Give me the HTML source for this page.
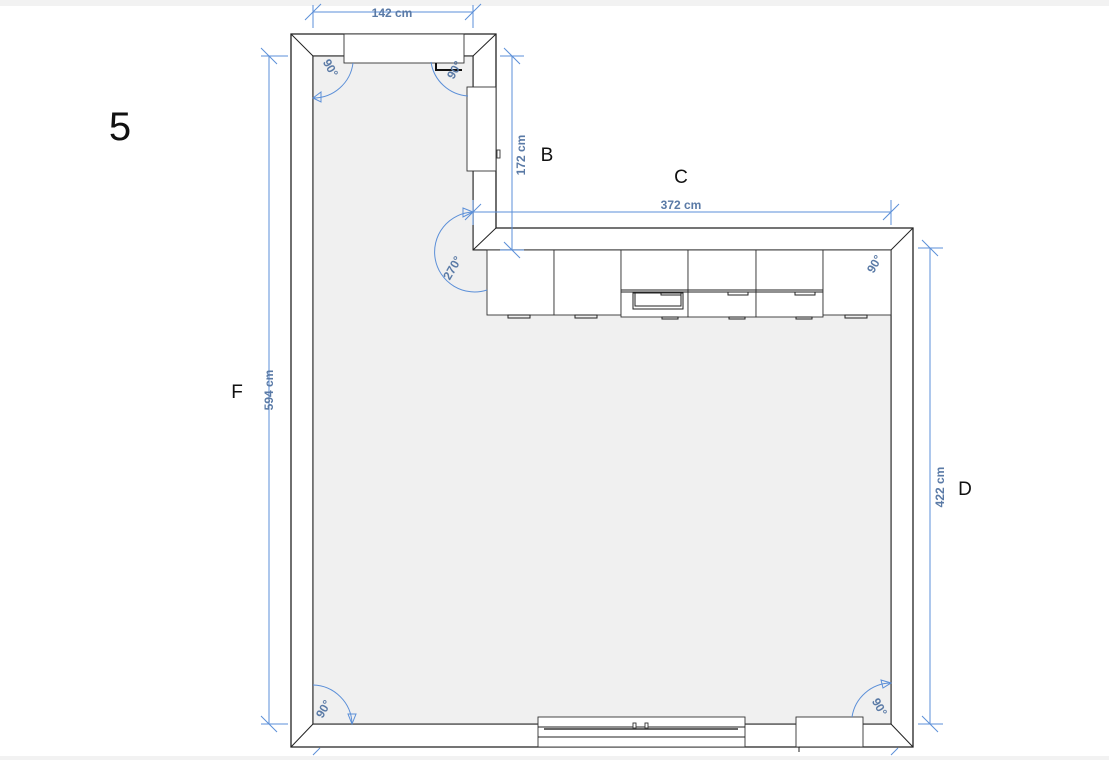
<!DOCTYPE html>
<html><head><meta charset="utf-8"><style>
body{margin:0;background:#fff;width:1109px;height:760px;overflow:hidden}
svg{display:block}
text{font-family:"Liberation Sans",sans-serif}
.d{stroke:#5b8fd8;stroke-width:1;fill:none}
.dt{fill:#5a7aa6;font-size:12px;font-weight:bold}
.a{stroke:#5b8fd8;stroke-width:1;fill:none}
.at{fill:#5a7aa6;font-size:12px;font-weight:bold}
.w{stroke:#222;stroke-width:1.3;fill:#fff}
.l{stroke:#222;stroke-width:1;fill:none}
.c{stroke:#333;stroke-width:0.9;fill:#fff}
</style></head><body>
<svg width="1109" height="760" viewBox="0 0 1109 760">
<rect x="0" y="0" width="1109" height="6" fill="#f2f2f2"/>
<rect x="0" y="756" width="1109" height="4" fill="#f2f2f2"/>
<!-- walls -->
<path class="w" fill-rule="evenodd" d="M291,34 L496,34 L496,228 L913,228 L913,747 L291,747 Z M313,56 L473,56 L473,250 L891,250 L891,724 L313,724 Z"/>
<path d="M313,56 L473,56 L473,250 L891,250 L891,724 L313,724 Z" fill="#f0f0f0" stroke="#222" stroke-width="1"/>
<g class="l">
<line x1="291" y1="34" x2="313" y2="56"/><line x1="496" y1="34" x2="473" y2="56"/>
<line x1="496" y1="228" x2="473" y2="250"/><line x1="913" y1="228" x2="891" y2="250"/>
<line x1="913" y1="747" x2="891" y2="724"/><line x1="291" y1="747" x2="313" y2="724"/>
</g>
<!-- top window -->
<rect class="c" x="344" y="34" width="120" height="29"/>
<path d="M436,63 V70 H462" stroke="#111" stroke-width="2" fill="none"/>
<!-- B door/cabinet -->
<rect class="c" x="467" y="87" width="29" height="84"/>
<rect class="c" x="497" y="150" width="3" height="8"/>
<!-- cabinets -->
<g class="c">
<rect x="487" y="250" width="67" height="65"/>
<rect x="554" y="250" width="67" height="65"/>
<rect x="621" y="250" width="67" height="67"/>
<rect x="688" y="250" width="68" height="67"/>
<rect x="756" y="250" width="67" height="67"/>
<rect x="823" y="250" width="68" height="65"/>
</g>
<g class="l">
<line x1="621" y1="290" x2="823" y2="290"/><line x1="621" y1="292" x2="823" y2="292"/>
<rect x="633" y="293" width="50" height="16"/><rect x="635" y="293" width="46" height="13"/>
<rect x="661" y="292" width="20" height="3"/><rect x="728" y="292" width="20" height="3"/><rect x="795" y="292" width="20" height="3"/>
<rect x="508" y="315" width="22" height="3"/><rect x="575" y="315" width="22" height="3"/><rect x="845" y="315" width="22" height="3"/>
<rect x="662" y="317" width="16" height="2"/><rect x="729" y="317" width="16" height="2"/><rect x="796" y="317" width="16" height="2"/>
</g>
<!-- bottom window -->
<rect class="c" x="538" y="717" width="207" height="30"/>
<line class="l" x1="538" y1="727" x2="745" y2="727"/>
<line class="l" x1="538" y1="737" x2="745" y2="737"/>
<line x1="544" y1="729" x2="738" y2="729" stroke="#333" stroke-width="1.5"/>
<rect class="c" x="633" y="723" width="3" height="5"/><rect class="c" x="645" y="723" width="3" height="5"/>
<rect class="c" x="796" y="717" width="67" height="30"/>
<line class="l" x1="799" y1="747" x2="799" y2="752"/>
<line class="l" x1="799" y1="747" x2="860" y2="747"/>
<!-- dimensions -->
<g class="d">
<line x1="313" y1="12" x2="473" y2="12"/><line x1="313" y1="5" x2="313" y2="28"/><line x1="473" y1="5" x2="473" y2="28"/>
<line x1="305" y1="20" x2="321" y2="4"/><line x1="465" y1="20" x2="481" y2="4"/>
<line x1="269" y1="56" x2="269" y2="724"/><line x1="261" y1="56" x2="288" y2="56"/><line x1="261" y1="724" x2="288" y2="724"/>
<line x1="261" y1="48" x2="277" y2="64"/><line x1="261" y1="716" x2="277" y2="732"/>
<line x1="512" y1="56" x2="512" y2="250"/><line x1="500" y1="56" x2="524" y2="56"/><line x1="500" y1="250" x2="524" y2="250"/>
<line x1="504" y1="48" x2="520" y2="64"/><line x1="504" y1="242" x2="520" y2="258"/>
<line x1="473" y1="212" x2="891" y2="212"/><line x1="473" y1="200" x2="473" y2="225"/><line x1="891" y1="200" x2="891" y2="225"/>
<line x1="465" y1="220" x2="481" y2="204"/><line x1="883" y1="220" x2="899" y2="204"/>
<line x1="930" y1="248" x2="930" y2="724"/><line x1="918" y1="248" x2="943" y2="248"/><line x1="918" y1="724" x2="943" y2="724"/>
<line x1="922" y1="240" x2="938" y2="256"/><line x1="922" y1="716" x2="938" y2="732"/>
<line x1="313" y1="755" x2="320" y2="748"/><line x1="891" y1="755" x2="898" y2="748"/>
</g>
<text class="dt" x="392" y="17" text-anchor="middle">142 cm</text>
<text class="dt" x="681" y="209" text-anchor="middle">372 cm</text>
<text class="dt" transform="translate(273,390) rotate(-90)" text-anchor="middle">594 cm</text>
<text class="dt" transform="translate(525,155) rotate(-90)" text-anchor="middle">172 cm</text>
<text class="dt" transform="translate(944,487) rotate(-90)" text-anchor="middle">422 cm</text>
<!-- angle arcs -->
<g class="a">
<path d="M353,63 A40,40 0 0 1 313,98"/><path d="M313,98 l8,-6 l0,10 z"/>
<path d="M431,62 A40,40 0 0 0 468,96"/>
<path d="M473,212 A40,40 0 1 0 487,290"/><path d="M473,212 l-10,-4 l0,9 z"/>
<path d="M313,685 A40,40 0 0 1 352,724"/><path d="M352,724 l-4,-10 l8,0 z"/>
<path d="M891,683 A40,40 0 0 0 852,717"/><path d="M891,683 l-10,-3 l2,8 z"/>
</g>
<text class="at" transform="translate(327,70) rotate(60)" text-anchor="middle">90°</text>
<text class="at" transform="translate(458,72) rotate(-60)" text-anchor="middle">90°</text>
<text class="at" transform="translate(456,270) rotate(-60)" text-anchor="middle">270°</text>
<text class="at" transform="translate(878,266) rotate(-60)" text-anchor="middle">90°</text>
<text class="at" transform="translate(327,711) rotate(-60)" text-anchor="middle">90°</text>
<text class="at" transform="translate(876,709) rotate(60)" text-anchor="middle">90°</text>
<!-- labels -->
<text x="120" y="140" font-size="40" text-anchor="middle" fill="#111">5</text>
<text x="547" y="161" font-size="19" text-anchor="middle" fill="#111">B</text>
<text x="681" y="183" font-size="19" text-anchor="middle" fill="#111">C</text>
<text x="965" y="495" font-size="19" text-anchor="middle" fill="#111">D</text>
<text x="237" y="398" font-size="19" text-anchor="middle" fill="#111">F</text>
</svg>
</body></html>
